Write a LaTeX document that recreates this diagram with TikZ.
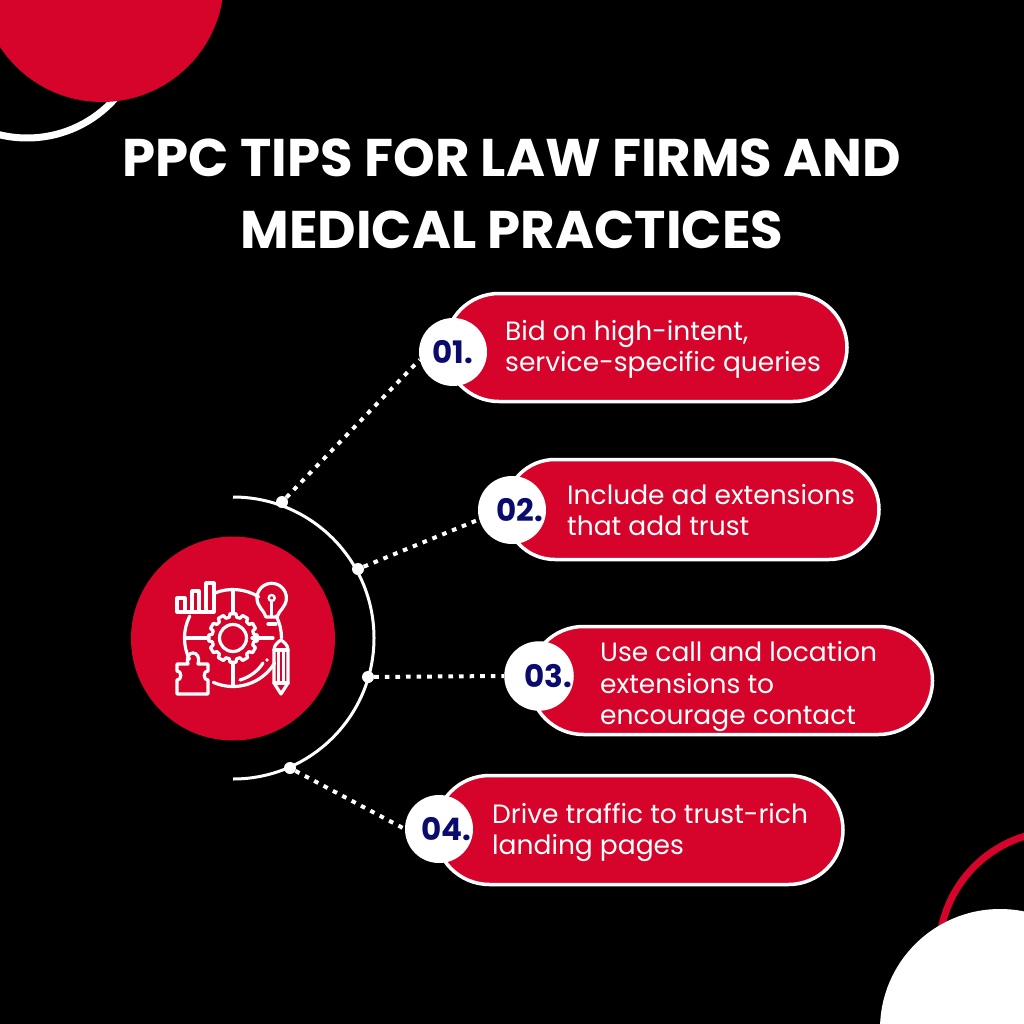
\documentclass[tikz,border=0pt]{standalone}
\usepackage{fontspec}
\usepackage{xcolor}
\setmainfont{Poppins}
\usetikzlibrary{shapes.misc}
\definecolor{tipred}{HTML}{D6042A}
\definecolor{tipnavy}{HTML}{0B0B6E}
\tikzset{pill/.style={rounded rectangle,draw=white,line width=3.5pt,fill=tipred,inner sep=0pt},
 badge/.style={circle,fill=white,minimum size=68pt,inner sep=0pt,text=tipnavy,font=\fontsize{31}{31}\selectfont\bfseries},
 tiptext/.style={text=white,align=left,anchor=west,inner sep=0pt,font=\fontsize{26.5}{31.5}\selectfont},
 title/.style={text=white,font=\fontsize{53}{53}\selectfont\bfseries,inner sep=0pt},
 ringdot/.style={circle,fill=white,minimum size=12pt,inner sep=0pt},
 dotline/.style={white,line width=4pt,dash pattern=on 4.6pt off 6pt},
 iconline/.style={white,line width=3.2pt,line join=round,line cap=round},
 }

\begin{document}
\begin{tikzpicture}[x=1pt,y=-1pt]
        \useasboundingbox (0,0) rectangle (1024,1024);
        \fill[black] (0,0) rectangle (1024,1024);
        % corners
        \draw[white,line width=7pt] (27,20) circle[radius=118];
        \fill[tipred] (102,-20) circle[radius=122];
        \draw[tipred,line width=7pt] (1060,952) circle[radius=121];
        \fill[white] (1000,1029) circle[radius=120];
        % title
        \node[title] (titlea) at (512,158) {PPC TIPS FOR LAW FIRMS AND};
        \node[title] (titleb) at (512,230) {MEDICAL PRACTICES};
        % hub
        \draw[white,line width=3pt] (233,497) arc[start angle=-90,end angle=90,radius=141];
        \node[circle,fill=tipred,minimum size=204pt,inner sep=0pt] (hub) at (233,638.5) {};
        \node[ringdot] (dota) at (282,502) {};
        \node[ringdot] (dotb) at (358,569) {};
        \node[ringdot] (dotc) at (368,677) {};
        \node[ringdot] (dotd) at (290,768) {};
        % pills
        \node[pill,minimum width=402pt,minimum height=108pt] (pilla) at (646,347.5) {};
        \node[pill,minimum width=374pt,minimum height=100pt] (pillb) at (692,509.5) {};
        \node[pill,minimum width=403pt,minimum height=108pt] (pillc) at (731,680.5) {};
        \node[pill,minimum width=408pt,minimum height=109pt] (pilld) at (639,830) {};
        \node[badge] (numa) at (453,352) {01.};
        \node[badge] (numb) at (512,510) {\kern16pt 02.};
        \node[badge] (numc) at (539,676) {\kern18pt 03.};
        \node[badge] (numd) at (439,829) {\kern14pt 04.};
        \node[tiptext] (texta) at (505,349.5) {Bid on high-intent,\\service-specific queries};
        \node[tiptext] (textb) at (567,510) {Include ad extensions\\that add trust};
        \node[tiptext] (textc) at (600,686.5) {Use call and location\\extensions to\\encourage contact};
        \node[tiptext] (textd) at (492,832.5) {Drive traffic to trust-rich\\landing pages};
        \draw[dotline] (dota) -- (numa.193);
        \draw[dotline] (dotb) -- (numb.196);
        \draw[dotline] (dotc) -- (numc.180);
        \draw[dotline] (dotd) -- (numd.180);
        % icon
        \draw[iconline] (177,612) -- (177,598) -- (185,598) -- (185,612) -- cycle;
        \draw[iconline] (192,612) -- (192,591) -- (199,591) -- (199,612) -- cycle;
        \draw[iconline] (206,612) -- (206,583) -- (214,583) -- (214,612) -- cycle;
        \draw[iconline] (185,612) -- (206,612);
        \draw[iconline] (233,638) ++(-112:48.5) arc[start angle=-112,end angle=-58,radius=48.5];
        \draw[iconline] (233,638) ++(207:48.5) arc[start angle=207,end angle=154,radius=48.5];
        \draw[iconline] (233,638) ++(-27:48.5) arc[start angle=-27,end angle=0,radius=48.5];
        \draw[iconline] (233,638) ++(114:48.5) arc[start angle=114,end angle=31,radius=48.5];
        \draw[iconline] (233,590) -- (233,612);
        \draw[iconline] (185,638) -- (209,638);
        \draw[iconline] (252,638) -- (273,638);
        \draw[iconline] (233,664) -- (233,686);
        \draw[iconline] (240,680) .. controls (250,677) and (258,671) .. (263,663);
        \fill[white] (267,660) circle[radius=1.8];
        % gear
        \draw[iconline] (233,638) circle[radius=13.5];
        \foreach \a in {0,30,...,330}
            \draw[iconline,shift={(233,638)}] (\a-10:21) -- (\a-7:24.5) -- (\a+7:24.5) -- (\a+10:21) -- (\a+20:21);
        % bulb
        \draw[iconline] (266,617) .. controls (264,610) and (257,607) .. (257,598) arc[start angle=180,end angle=360,radius=14.7] .. controls (286.4,607) and (279,610) .. (277,617) -- cycle;
        \draw[iconline] (268,624) -- (276,624);
        \draw[iconline] (271.7,601) -- (271.7,617);
        \draw[iconline,line width=2.4pt] (271.7,598) circle[radius=3];
        % pencil
        \draw[iconline] (274,650) .. controls (274,645) and (278,642) .. (281,640) .. controls (284,642) and (288,645) .. (288,650) -- (288,683) -- (281,694) -- (274,683) -- cycle;
        \draw[iconline] (274,650) -- (288,650);
        \draw[iconline] (278.7,650) -- (278.7,683);
        \draw[iconline] (283.3,650) -- (283.3,683);
        \draw[iconline] (274,683) -- (288,683);
        % puzzle
        \draw[iconline] (177,664) -- (188,664) .. controls (186,657) and (189,653) .. (193,653) .. controls (197,653) and (200,657) .. (198,664) -- (208,664) -- (208,671) .. controls (203,670) and (203,681) .. (208,680) -- (208,694) -- (177,694) -- (177,680) .. controls (182,681) and (182,670) .. (177,671) -- cycle;
    \end{tikzpicture}
\end{document}
